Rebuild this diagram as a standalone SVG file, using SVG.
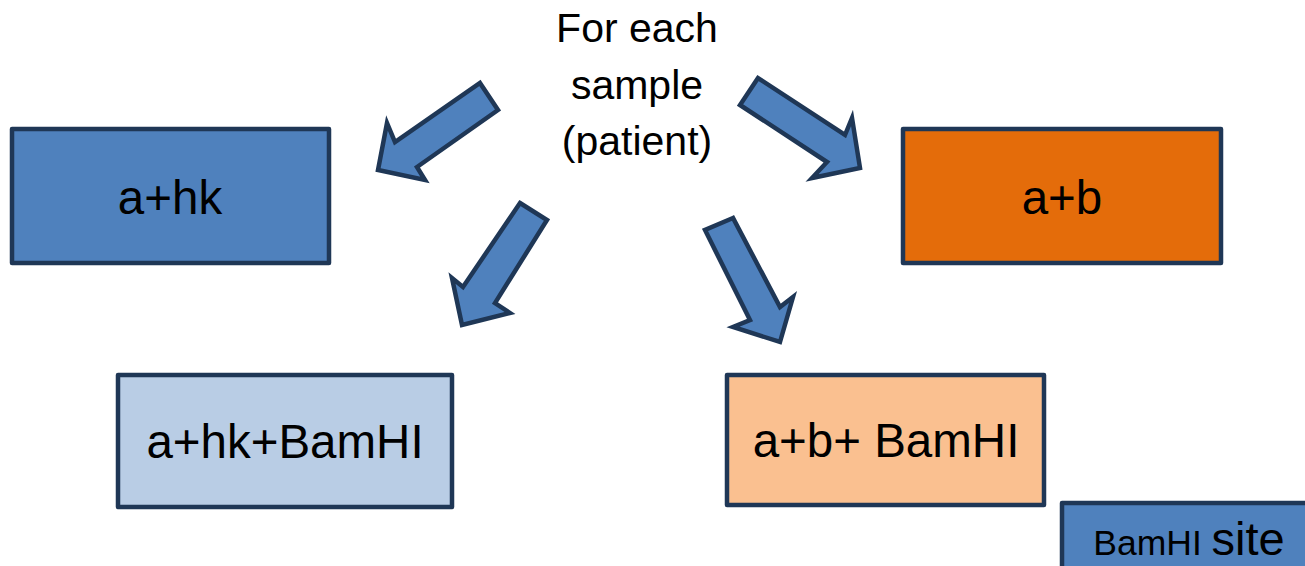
<svg xmlns="http://www.w3.org/2000/svg" width="1305" height="566" viewBox="0 0 1305 566">
<style>
.box{stroke:#1f3756;stroke-width:4.5;stroke-linejoin:round}
.arr{fill:#4f81bd;stroke:#1f3756;stroke-width:4.5;stroke-linejoin:miter}
text{font-family:"Liberation Sans",Arial,sans-serif;fill:#000;text-anchor:middle}
.lbl{font-size:47.5px}
.top{font-size:41px}
</style>
<rect width="1305" height="566" fill="#fff"/>
<g id="source">
<text class="top" x="637" y="42">For each</text>
<text class="top" x="637" y="99">sample</text>
<text class="top" x="637" y="155">(patient)</text>
</g>
<g id="connectors">
<polygon class="arr" points="480,83 498,110 417,167 425,180 378,170 387,123 395,142"/>
<polygon class="arr" points="758,78 740,105 827,162 812,178 860,168 852,118 845,135"/>
<polygon class="arr" points="520,203 547,220 495,303 510,313 462,325 452,278 463,287"/>
<polygon class="arr" points="733,218 705,230 750,320 733,327 780,342 793,297 780,307"/>
</g>
<g id="node-a-hk">
<rect class="box" x="12" y="129" width="317" height="134" fill="#4f81bd"/>
<text class="lbl" x="170" y="214">a+hk</text>
</g>
<g id="node-a-b">
<rect class="box" x="903" y="129" width="318" height="134" fill="#e46c0a"/>
<text class="lbl" x="1062" y="214">a+b</text>
</g>
<g id="node-a-hk-bamhi">
<rect class="box" x="118" y="375" width="334" height="132" fill="#b9cde5"/>
<text class="lbl" x="285" y="458">a+hk+BamHI</text>
</g>
<g id="node-a-b-bamhi">
<rect class="box" x="727" y="375" width="317" height="130" fill="#fac090"/>
<text class="lbl" x="886" y="457">a+b+ BamHI</text>
</g>
<g id="node-bamhi-site">
<rect class="box" x="1062" y="503" width="260" height="80" fill="#4f81bd"/>
<text x="1189" y="555" style="font-size:35.5px">BamHI <tspan style="font-size:47px">site</tspan></text>
</g>
</svg>
